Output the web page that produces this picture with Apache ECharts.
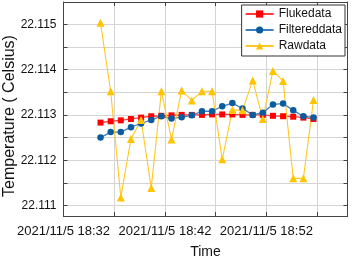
<!DOCTYPE html>
<html>
<head>
<meta charset="utf-8">
<script src="https://cdn.jsdelivr.net/npm/echarts@6/dist/echarts.min.js"></script>
<style>
html,body{margin:0;padding:0;background:#fff;}
#chart{width:353px;height:258px;}
</style>
</head>
<body>
<div id="chart"></div>
<script>
const datePrefix = '2021/11/5';
const times = ['18:35:39','18:36:39','18:37:39','18:38:39','18:39:39','18:40:39','18:41:39','18:42:39','18:43:39','18:44:39','18:45:39',
               '18:46:39','18:47:39','18:48:39','18:49:39','18:50:39','18:51:39','18:52:39','18:53:39','18:54:39','18:55:39','18:56:39'];
const flukeData = [22.11283,22.11286,22.11288,22.11291,22.11294,22.11297,22.11298,22.11299,22.11300,22.11300,22.11300,
                   22.11301,22.11301,22.11301,22.11300,22.11300,22.11300,22.11298,22.11297,22.11296,22.11294,22.11291];
const filteredData = [22.11250,22.11262,22.11262,22.11273,22.11281,22.11289,22.11297,22.11292,22.11295,22.11299,22.11308,
                      22.11308,22.11319,22.11326,22.11314,22.11300,22.11305,22.11323,22.11325,22.11310,22.11297,22.11294];
const rawData = [22.11503,22.11352,22.11118,22.11247,22.11289,22.11139,22.11352,22.11246,22.11354,22.11332,22.11352,
                 22.11352,22.11202,22.11311,22.11310,22.11376,22.11291,22.11397,22.11375,22.11160,22.11160,22.11333];
const xStart = '18:32', xEnd = '19:00';
const yMin = 22.11077, yMax = 22.11549;

function toMin(t){ const p = t.split(':').map(Number); return p[0]*60 + p[1] + (p[2]||0)/60; }
function pad(n){ return (n<10?'0':'')+n; }
const xs = times.map(toMin);
const x0 = toMin(xStart), x1 = toMin(xEnd);
const pairs = arr => arr.map((v,i)=>[xs[i], v]);

const font = 'Arial, "Liberation Sans", sans-serif';
const frame = {show:true, lineStyle:{color:'#444', width:1}};
const tick = {show:true, inside:true, length:4, lineStyle:{color:'#444'}};
const grid = {show:true, lineStyle:{color:'#d4d4d4', width:1}};

const chart = echarts.init(document.getElementById('chart'), null, {renderer:'canvas'});
chart.setOption({
  animation:false,
  backgroundColor:'#fff',
  grid:{left:63.5, right:5.5, top:2, bottom:42, containLabel:false, outerBoundsMode:'none'},
  legend:{
    orient:'vertical', right:8, top:5, padding:[3,3,4,3], itemGap:4,
    itemWidth:28, itemHeight:9, backgroundColor:'#fff',
    borderColor:'#333', borderWidth:1, borderRadius:0,
    textStyle:{fontFamily:font, fontSize:12, color:'#111'},
    data:['Flukedata','Filtereddata','Rawdata']
  },
  xAxis:[{
    type:'value', min:x0, max:x1, interval:5,
    name:'Time', nameLocation:'middle', nameGap:29, nameMoveOverlap:false,
    nameTextStyle:{fontFamily:font, fontSize:14, color:'#111'},
    axisLine:frame, axisTick:tick, splitLine:grid,
    axisLabel:{fontFamily:font, fontSize:13, color:'#111', margin:9, showMinLabel:true, showMaxLabel:true, hideOverlap:false,
      formatter:v=>{ const d=v-x0; if (Math.abs(d/10-Math.round(d/10))>1e-6) return ''; const h=Math.floor(v/60), m=Math.round(v-h*60); return datePrefix+' '+h+':'+pad(m);} }
  },{
    type:'value', position:'top', min:x0, max:x1, interval:5,
    axisLine:frame, axisTick:tick, splitLine:{show:false}, axisLabel:{show:false}
  }],
  yAxis:[{
    type:'value', min:yMin, max:yMax, splitNumber:10,
    name:'Temperature ( Celsius)', nameLocation:'middle', nameGap:46, nameRotate:90, nameMoveOverlap:false,
    nameTextStyle:{fontFamily:font, fontSize:16, color:'#111', padding:[0,14,0,0]},
    axisLine:frame, axisTick:tick, splitLine:grid,
    axisLabel:{fontFamily:font, fontSize:12, color:'#111', margin:7, showMinLabel:true, showMaxLabel:true,
      formatter:v=>{ const k=v*1000; if (Math.abs(k-Math.round(k))>1e-4) return ''; return v.toFixed(3);} }
  },{
    type:'value', position:'right', min:yMin, max:yMax, splitNumber:10,
    axisLine:frame, axisTick:tick, splitLine:{show:false}, axisLabel:{show:false}
  }],
  series:[{
    name:'Flukedata', type:'line', data:pairs(flukeData),
    symbol:'rect', symbolSize:6, showAllSymbol:true,
    itemStyle:{color:'#ff0000'}, lineStyle:{color:'#ff3c3c', width:1.3}
  },{
    name:'Filtereddata', type:'line', data:pairs(filteredData),
    symbol:'circle', symbolSize:6.5, showAllSymbol:true,
    itemStyle:{color:'#0b5c9e'}, lineStyle:{color:'#3f7fbf', width:1.3}
  },{
    name:'Rawdata', type:'line', data:pairs(rawData),
    symbol:'triangle', symbolSize:8, showAllSymbol:true,
    itemStyle:{color:'#ffc400'}, lineStyle:{color:'#ffc825', width:1.1}
  }]
});
</script>
</body>
</html>
